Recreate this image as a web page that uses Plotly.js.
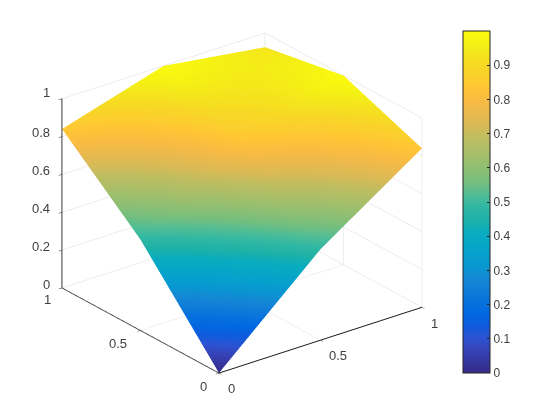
<!DOCTYPE html>
<html><head><meta charset="utf-8">
<script src="https://cdn.plot.ly/plotly-3.0.1.min.js"></script>
<style>html,body{margin:0;padding:0;background:#fff}#c{width:560px;height:420px}</style>
</head><body><div id="c"></div>
<script>
var xValues = [0, 0.5, 1];
var yValues = [0, 0.5, 1];
var zValues = [
  [0, 0.48, 0.84],
  [0.48, 0.84, 1],
  [0.84, 1, 0.925]
];
var zTicks = [0, 0.2, 0.4, 0.6, 0.8, 1];
var zTickLabels = ['0', '0.2', '0.4', '0.6', '0.8', '1'];
var xyTicks = [0, 0.5, 1];
var xyTickLabels = ['0', '0.5', '1'];
var barTicks = [0, 0.1, 0.2, 0.3, 0.4, 0.5, 0.6, 0.7, 0.8, 0.9];
var barTickLabels = ['0', '0.1', '0.2', '0.3', '0.4', '0.5', '0.6', '0.7', '0.8', '0.9'];
var parulaColors = [
 'rgb(53,42,135)','rgb(54,55,160)','rgb(53,68,185)','rgb(44,83,211)','rgb(15,92,221)','rgb(1,104,225)',
 'rgb(8,113,222)','rgb(16,125,215)','rgb(20,136,212)','rgb(9,151,209)','rgb(6,160,205)','rgb(6,167,198)',
 'rgb(10,172,190)','rgb(29,177,168)','rgb(46,183,164)','rgb(77,189,152)','rgb(113,190,128)','rgb(135,191,119)',
 'rgb(155,191,110)','rgb(174,190,103)','rgb(192,189,96)','rgb(217,186,86)','rgb(233,185,78)','rgb(248,187,68)',
 'rgb(255,195,55)','rgb(252,206,46)','rgb(247,216,37)','rgb(245,228,29)','rgb(245,242,19)','rgb(249,251,14)'
];
var labelFont = {family:'Liberation Sans, Arial, sans-serif', size:13, color:'#404040'};
var axisBase = {
  showbackground:false, showspikes:false, showgrid:true, gridcolor:'#dcdcdc', gridwidth:1,
  showline:true, linecolor:'#1a1a1a', linewidth:2, zeroline:false,
  ticks:'outside', ticklen:4, tickcolor:'#262626', tickwidth:1, showticklabels:false,
  title:{text:''}, autorange:false
};
function ax(range, vals){
  return Object.assign({}, axisBase, {range:range, tickmode:'array', tickvals:vals});
}
function note(x,y,z,text,dx,dy,anchor){
  return {x:x,y:y,z:z,text:text,showarrow:false,xshift:dx,yshift:dy,xanchor:anchor||'center',yanchor:'middle',font:labelFont};
}
var notes = [];
xyTicks.forEach(function(t,i){
  notes.push(note(t,0,0,xyTickLabels[i],[12,17,12][i],[-15,-15,-16][i]));
  notes.push(note(0,t,0,xyTickLabels[i],[-16,-23,-15][i],[-13,-13,-11][i]));
});
zTicks.forEach(function(t,i){
  notes.push(note(0,1,t,zTickLabels[i],-10,[4,4,4,4,4,6][i],'right'));
});
var d = 1.19;
var layout = {
  width:560, height:420, margin:{l:0,r:0,t:0,b:0}, paper_bgcolor:'#fff',
  showlegend:false,
  scene:{
    domain:{x:[0.002,0.863], y:[0.038,0.995]},
    xaxis:ax([0,1],xyTicks),
    yaxis:ax([0,1],xyTicks),
    zaxis:ax([0,1],zTicks),
    aspectmode:'manual', aspectratio:{x:1.277,y:1.277,z:1.037},
    annotations:notes,
    camera:{projection:{type:'orthographic'}, center:{x:0,y:0,z:0}, up:{x:0,y:0,z:1},
      eye:{x:-0.555*d,y:-0.718*d,z:0.419*d}}
  }
};
var trace = {
  type:'surface', x:xValues, y:yValues, z:zValues,
  colorscale:parulaColors.map(function(c,i){return [i/(parulaColors.length-1),c];}),
  cmin:0, cmax:1, hoverinfo:'skip',
  lighting:{ambient:1,diffuse:0,specular:0,roughness:1,fresnel:0},
  colorbar:{
    x:463/560, xanchor:'left', xpad:0, ypad:0, y:(420-373)/420, yanchor:'bottom',
    lenmode:'pixels', len:342, thicknessmode:'pixels', thickness:27,
    outlinecolor:'#262626', outlinewidth:1,
    tickmode:'array', tickvals:barTicks, ticktext:barTickLabels, ticks:'inside', ticklen:3, tickcolor:'#262626',
    tickfont:{family:'Liberation Sans, Arial, sans-serif', size:12, color:'#404040'}
  }
};
Plotly.newPlot('c',[trace],layout,{displayModeBar:false});
</script></body></html>
